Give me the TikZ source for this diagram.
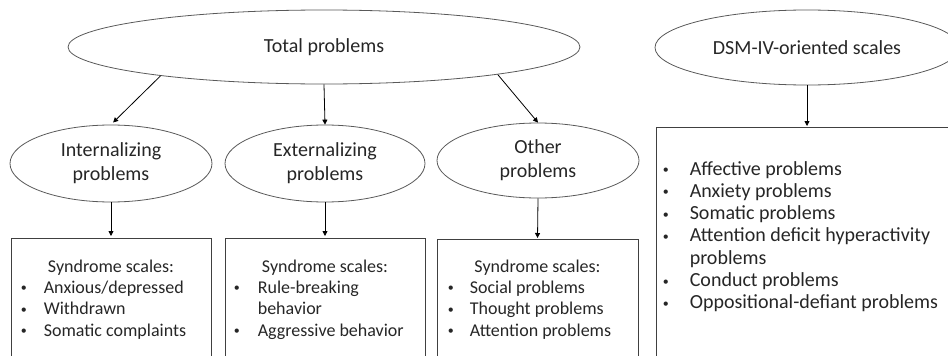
\documentclass[tikz,border=0pt]{standalone}
\usepackage{fontspec}
\setmainfont{Carlito}
\usepackage{tikz}
\usetikzlibrary{positioning,calc,arrows.meta,shapes.geometric}
\tikzset{oval/.style={ellipse, draw=black!65, line width=0.8pt, inner sep=0pt, align=center, text=black!85, font=\fontsize{20}{24}\selectfont}}
\tikzset{sbox/.style={draw=black!75, line width=0.8pt, minimum width=200pt, minimum height=130pt, anchor=north, inner sep=0pt}}
\tikzset{hdr/.style={inner sep=0pt, anchor=base, text=black!85, font=\fontsize{18}{21.7}\selectfont}}
\tikzset{lst/.style={inner sep=0pt, anchor=base west, text=black!85, font=\fontsize{18}{21.7}\selectfont}}
\tikzset{dlst/.style={lst, font=\fontsize{20}{22.3}\selectfont}}
\tikzset{arr1/.style={draw=black, line width=0.8pt, -{Triangle[length=5pt,width=5pt]}}}
\newcommand{\bl}{\raisebox{1.5pt}{\fontsize{12}{12}\selectfont\textbullet}}

\begin{document}
\begin{tikzpicture}[x=1pt,y=-1pt]
	\path[use as bounding box, clip] (0,0) rectangle (948,356);
	% top row
	\node[oval, minimum width=512, minimum height=74] (total) at (324,47) {Total problems};
	\node[oval, minimum width=304, minimum height=75] (dsm) at (807,47.5) {DSM-IV-oriented scales};
	% middle row
	\node[oval, minimum width=202, minimum height=77] (intl) at (111,163.5) {Internalizing\\problems};
	\node[oval, minimum width=200, minimum height=77] (extl) at (325,163.5) {Externalizing\\problems};
	\node[oval, minimum width=202, minimum height=75] (oth) at (538,160.5) {Other\\problems};
	% boxes
	\node[sbox] (intbox) at (111,238) {};
	\node[sbox] (extbox) at (325,238) {};
	\node[sbox, minimum width=201] (othbox) at (537.5,239) {};
	\node[sbox, minimum width=302, minimum height=240] (dsmbox) at (807,127) {};
	% box texts
	\node[hdr] (inthd) at ($(intbox.north)+(0,34)$) {Syndrome scales:};
	\node[lst] (intls) at ($(intbox.north west)+(10,55)$) {\begin{tabular}[t]{@{}p{23pt}@{}l@{}}
		\bl & Anxious/depressed\\
		\bl & Withdrawn\\
		\bl & Somatic complaints
	\end{tabular}};
	\node[hdr] (exthd) at ($(extbox.north)+(0,34)$) {Syndrome scales:};
	\node[lst] (extls) at ($(extbox.north west)+(9,55)$) {\begin{tabular}[t]{@{}p{24pt}@{}l@{}}
		\bl & Rule-breaking\\
		    & behavior\\
		\bl & Aggressive behavior
	\end{tabular}};
	\node[hdr] (othhd) at ($(othbox.north)+(0,33)$) {Syndrome scales:};
	\node[lst] (othls) at ($(othbox.north west)+(11,54)$) {\begin{tabular}[t]{@{}p{22pt}@{}l@{}}
		\bl & Social problems\\
		\bl & Thought problems\\
		\bl & Attention problems
	\end{tabular}};
	\node[dlst] (dsmls) at ($(dsmbox.north west)+(7,48)$) {\begin{tabular}[t]{@{}p{27pt}@{}l@{}}
		\bl & Affective problems\\
		\bl & Anxiety problems\\
		\bl & Somatic problems\\
		\bl & Attention deficit hyperactivity\\
		    & problems\\
		\bl & Conduct problems\\
		\bl & Oppositional-defiant problems
	\end{tabular}};
	% arrows
	\draw[arr1, shorten >=3pt] (total.190) -- (intl.north);
	\draw[arr1] (total.south) -- (extl.north);
	\draw[arr1] (total.351) -- (oth.north);
	\draw[arr1, shorten >=2pt] (intl.south) -- (intbox.north);
	\draw[arr1, shorten >=2pt] (extl.south) -- (extbox.north);
	\draw[arr1, shorten >=1pt] (oth.south) -- (othbox.north);
	\draw[arr1, shorten >=1pt] (dsm.south) -- (dsmbox.north);
\end{tikzpicture}
\end{document}
